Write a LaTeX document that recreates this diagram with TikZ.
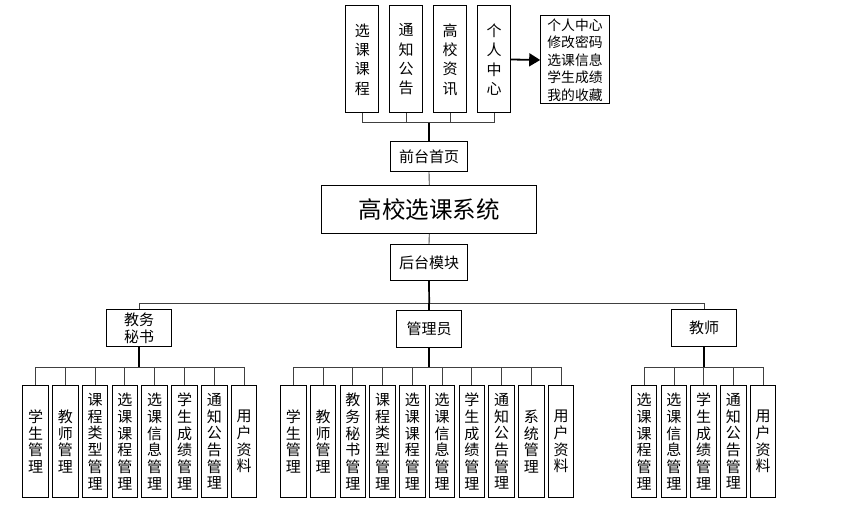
\documentclass[tikz,border=0pt]{standalone}
\usepackage{fontspec}
\setmainfont{Noto Sans CJK SC}
\usetikzlibrary{arrows.meta}
\begin{document}
\begin{tikzpicture}[x=1pt,y=-1pt,
  box/.style={draw=black, line width=1pt, fill=white, inner sep=0pt, align=center},
  topbox/.style={box, minimum width=33.3pt, minimum height=107pt, font=\fontsize{15}{19.4}\selectfont},
  midbox/.style={box, minimum width=76.6pt, font=\fontsize{15}{17}\selectfont},
  rolebox/.style={box, minimum width=65pt, minimum height=36.7pt, font=\fontsize{15}{17.5}\selectfont},
  vbox/.style={box, minimum width=25.5pt, minimum height=111.6pt, font=\fontsize{15}{16.7}\selectfont},
  link/.style={line width=0.9pt, draw=black!75},
  trunk/.style={line width=1.7pt, draw=black}
]
\useasboundingbox (0,0) rectangle (851,505);

% front-end modules
\node[topbox] (f1) at (362.3,59.5) {选\\课\\课\\程};
\node[topbox] (f2) at (406,59.5) {通\\知\\公\\告};
\node[topbox] (f3) at (450,59.5) {高\\校\\资\\讯};
\node[topbox] (f4) at (494,59.5) {个\\人\\中\\心};
\node[box, minimum width=68.6pt, minimum height=88pt, font=\fontsize{13.8}{17.5}\selectfont] (pc) at (575,60)
  {个人中心\\修改密码\\选课信息\\学生成绩\\我的收藏};
\draw[line width=1.8pt, -{Triangle[length=11pt,width=13pt]}] (f4.east) -- (pc.west);

\node[midbox, minimum height=30pt] (qian) at (429,156.7) {前台首页};
\node[box, minimum width=214.7pt, minimum height=47.6pt, font=\fontsize{23.5}{26}\selectfont] (sys) at (429.3,209.5) {高校选课系统};
\node[midbox, minimum height=36.4pt] (hou) at (429,262.5) {后台模块};

\coordinate (topbus) at (429,122.7);
\foreach \i in {1,...,4} \draw[link] (f\i.south) -- (f\i.south |- topbus);
\draw[link] (f1.south |- topbus) -- (f4.south |- topbus);
\draw[trunk] (topbus) -- (qian.north);
\draw[link] (qian.south) -- (sys.north);
\draw[link] (sys.south) -- (hou.north);

% roles
\node[rolebox] (js) at (139.2,328.3) {教务\\秘书};
\node[rolebox] (gly) at (429.2,328.7) {管理员};
\node[rolebox] (jsh) at (704.2,328.3) {教师};

\coordinate (mainbus) at (429.2,303.3);
\draw[trunk] (hou.south) -- (mainbus);
\draw[link] (js.north |- mainbus) -- (jsh.north |- mainbus);
\draw[link] (js.north |- mainbus) -- (js.north);
\draw[link] (jsh.north |- mainbus) -- (jsh.north);
\draw[trunk] (mainbus) -- (gly.north);

% children of 教务秘书
\foreach \txt [count=\i] in {{学\\生\\管\\理},{教\\师\\管\\理},{课\\程\\类\\型\\管\\理},{选\\课\\课\\程\\管\\理},{选\\课\\信\\息\\管\\理},{学\\生\\成\\绩\\管\\理},{通\\知\\公\\告\\管\\理},{用\\户\\资\\料}}
  \node[vbox] (a\i) at ({35.5+29.8*(\i-1)},441.5) {\txt};
\coordinate (busA) at (139.2,367.3);
\draw[trunk] (js.south) -- (busA);
\draw[link] (a1.north |- busA) -- (a8.north |- busA);
\foreach \i in {1,...,8} \draw[link] (a\i.north) -- (a\i.north |- busA);

% children of 管理员
\foreach \txt [count=\i] in {{学\\生\\管\\理},{教\\师\\管\\理},{教\\务\\秘\\书\\管\\理},{课\\程\\类\\型\\管\\理},{选\\课\\课\\程\\管\\理},{选\\课\\信\\息\\管\\理},{学\\生\\成\\绩\\管\\理},{通\\知\\公\\告\\管\\理},{系\\统\\管\\理},{用\\户\\资\\料}}
  \node[vbox] (m\i) at ({293.3+29.75*(\i-1)},441.5) {\txt};
\coordinate (busM) at (429.2,367.3);
\draw[trunk] (gly.south) -- (busM);
\draw[link] (m1.north |- busM) -- (m10.north |- busM);
\foreach \i in {1,...,10} \draw[link] (m\i.north) -- (m\i.north |- busM);

% children of 教师
\foreach \txt [count=\i] in {{选\\课\\课\\程\\管\\理},{选\\课\\信\\息\\管\\理},{学\\生\\成\\绩\\管\\理},{通\\知\\公\\告\\管\\理},{用\\户\\资\\料}}
  \node[vbox] (s\i) at ({644.2+29.75*(\i-1)},441.5) {\txt};
\coordinate (busT) at (704.2,367.3);
\draw[trunk] (jsh.south) -- (busT);
\draw[link] (s1.north |- busT) -- (s5.north |- busT);
\foreach \i in {1,...,5} \draw[link] (s\i.north) -- (s\i.north |- busT);
\end{tikzpicture}
\end{document}
